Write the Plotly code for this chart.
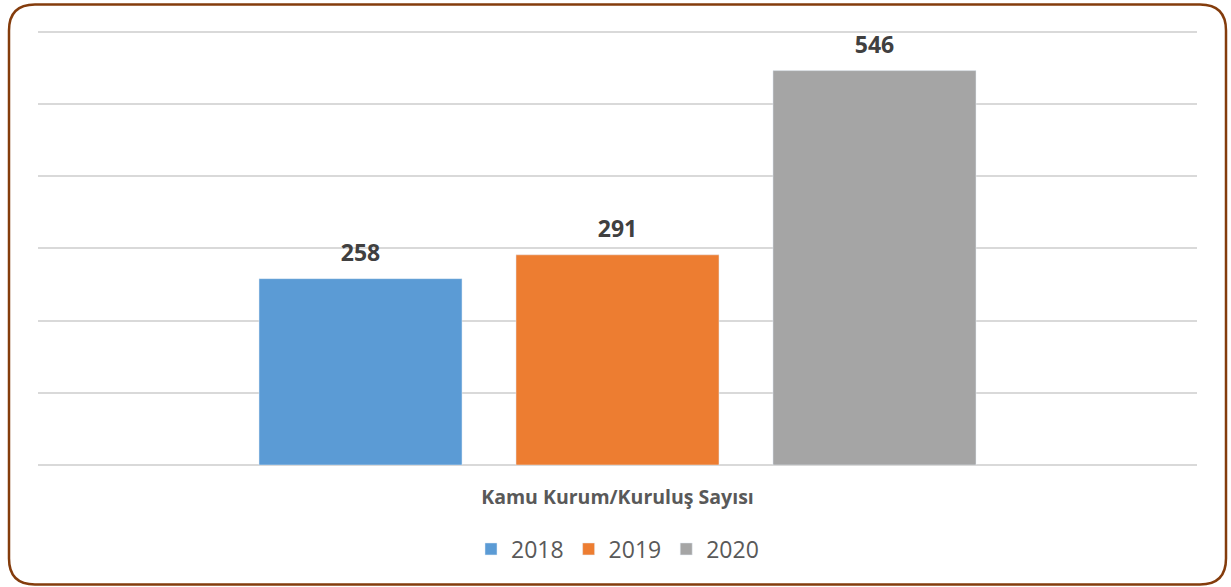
import plotly.graph_objects as go

category = ["Kamu Kurum/Kuruluş Sayısı"]
years = ["2018", "2019", "2020"]
values = [258, 291, 546]
colors = ["#5B9BD5", "#ED7D31", "#A5A5A5"]

W, H = 1231, 587
L, R, T, B = 38, 34, 28, 122
pw, ph = W - L - R, H - T - B

fig = go.Figure()
for yr, v, c in zip(years, values, colors):
    fig.add_trace(go.Bar(
        x=category, y=[v], name=yr, marker_color=c, offsetgroup=yr,
        hoverinfo="skip",
    ))
for yr, v in zip(years, values):
    fig.add_trace(go.Scatter(
        x=category, y=[v], mode="markers+text", text=[str(v)],
        textposition="top center", offsetgroup=yr, showlegend=False,
        marker=dict(size=18, color="rgba(0,0,0,0)"),
        textfont=dict(family="Open Sans", size=23, color="#404040", weight="bold"),
        cliponaxis=False, hoverinfo="skip",
    ))

def px(x):
    return (x - L) / pw

def py(y):
    return (H - B - y) / ph

x0, x1, y0, y1, r = 9, 1226, 4.5, 584.5, 26
path = (
    f"M {px(x0 + r)} {py(y0)} L {px(x1 - r)} {py(y0)} "
    f"Q {px(x1)} {py(y0)} {px(x1)} {py(y0 + r)} "
    f"L {px(x1)} {py(y1 - r)} "
    f"Q {px(x1)} {py(y1)} {px(x1 - r)} {py(y1)} "
    f"L {px(x0 + r)} {py(y1)} "
    f"Q {px(x0)} {py(y1)} {px(x0)} {py(y1 - r)} "
    f"L {px(x0)} {py(y0 + r)} "
    f"Q {px(x0)} {py(y0)} {px(x0 + r)} {py(y0)} Z"
)
fig.add_shape(type="path", path=path, xref="paper", yref="paper",
              line=dict(color="#843C0C", width=2.5), layer="above")

fig.update_layout(
    width=W, height=H,
    margin=dict(l=L, r=R, t=T, b=B),
    paper_bgcolor="white", plot_bgcolor="white",
    barmode="group", bargap=0.3348, bargroupgap=0.21,
    scattermode="group", scattergap=0.3348,
    font=dict(family="Open Sans", color="#595959"),
    legend=dict(orientation="h", x=0.5, xanchor="center", y=py(549), yanchor="middle",
                font=dict(size=23, color="#595959"), itemclick=False),
    showlegend=True,
)
fig.update_xaxes(showgrid=False, showline=False, zeroline=False,
                 tickfont=dict(size=19.5, color="#595959", weight="bold"),
                 ticks="", ticklabelstandoff=18, fixedrange=True)
fig.update_yaxes(range=[0, 605], tickvals=[100, 200, 300, 400, 500, 600],
                 showgrid=True, gridcolor="#D9D9D9",
                 gridwidth=1.5, showticklabels=False, zeroline=True,
                 zerolinecolor="#D9D9D9", zerolinewidth=1.5, fixedrange=True)

fig.write_html("out.html", config={"displayModeBar": False},
               post_script="document.body.style.margin='0';document.body.style.overflow='hidden';")
